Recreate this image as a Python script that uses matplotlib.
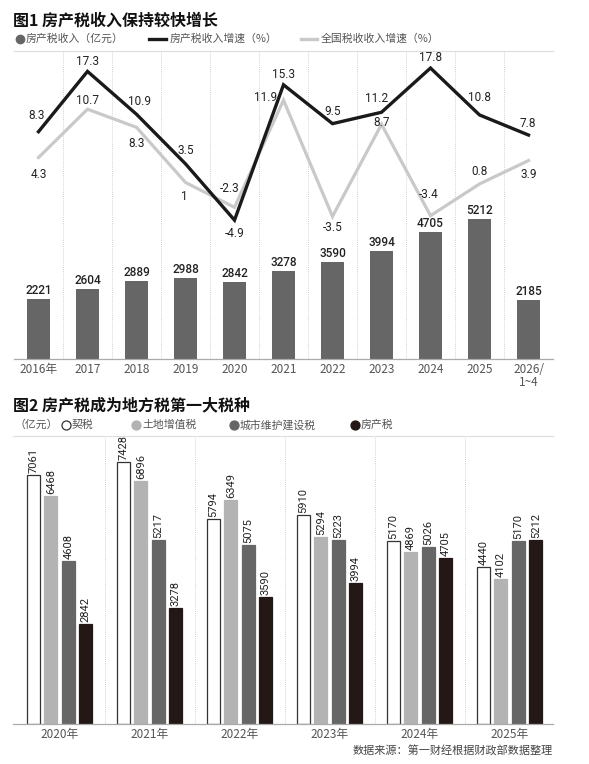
import matplotlib
matplotlib.use('Agg')
import matplotlib.pyplot as plt
from matplotlib.lines import Line2D

plt.rcParams['font.family'] = ['Noto Sans CJK SC', 'DejaVu Sans']

W, H = 589, 764

# ---------------- data: chart 1 ----------------
years1 = ['2016年', '2017', '2018', '2019', '2020', '2021', '2022', '2023',
          '2024', '2025', '2026/\n1~4']
revenue = [2221, 2604, 2889, 2988, 2842, 3278, 3590, 3994, 4705, 5212, 2185]
growth = [8.3, 17.3, 10.9, 3.5, -4.9, 15.3, 9.5, 11.2, 17.8, 10.8, 7.8]
national = [4.3, 10.7, 8.3, 1, -2.3, 11.9, -3.5, 8.7, -3.4, 0.8, 3.9]
legend1 = ['房产税收入（亿元）', '房产税收入增速（%）', '全国税收收入增速（%）']

# ---------------- data: chart 2 ----------------
years2 = ['2020年', '2021年', '2022年', '2023年', '2024年', '2025年']
deed_tax = [7061, 7428, 5794, 5910, 5170, 4440]
land_vat = [6468, 6896, 6349, 5294, 4869, 4102]
urban_tax = [4608, 5217, 5075, 5223, 5026, 5170]
property_tax = [2842, 3278, 3590, 3994, 4705, 5212]
series2_names = ['契税', '土地增值税', '城市维护建设税', '房产税']

# label offsets in screen pixels (dx right, dy down) -- placement only
growth_off = [(-2, -16), (0, -10), (3, -13), (0, -13), (0, 13), (0, -10),
              (0, -12), (-5, -14), (0, -11), (0, -17), (-1, -12)]
national_off = [(0, 17), (0, -9), (0, 16), (-1, 14), (-5, -19), (-18, -3),
                (0, 11), (0, -2), (-2, -21), (0, -12), (0, 14)]

NUMFONT = 'Roboto'
TXT = '#222222'
GRID = '#c4c4c4'


def fx(x):
    return x / W


def fy(y):
    return 1 - y / H


fig = plt.figure(figsize=(W / 100, H / 100), dpi=100)

# ================= Chart 1 =================
top1, base1, left1, right1 = 51, 358.7, 14, 553
ax1 = fig.add_axes([fx(left1), fy(base1), (right1 - left1) / W, (base1 - top1) / H])
x1 = list(range(len(years1)))
ax1.bar(x1, revenue, width=0.45, color='#666666', zorder=2)
ax1.set_xlim(-0.5, len(years1) - 0.5)
ax1.set_ylim(0, (base1 - top1) / 0.02685)
for i, v in enumerate(revenue):
    ax1.annotate(str(v), (i, v), xytext=(0, 2), textcoords='offset pixels',
                 ha='center', va='bottom', fontsize=8.5, family=NUMFONT,
                 fontweight='medium', color=TXT, zorder=5)
for i in range(len(years1) - 1):
    ax1.axvline(i + 0.5, color=GRID, lw=0.6, ls=(0, (1, 1.5)), zorder=0)

# grey national line on its own scale
axg = ax1.twinx()
axg.set_ylim(-(base1 - 190) / 7.55, (190 - top1) / 7.55)
axg.plot(x1, national, color='#c9c9c9', lw=2.3, solid_joinstyle='miter', zorder=3)
for i, v in enumerate(national):
    dx, dy = national_off[i]
    axg.annotate('{:g}'.format(v), (i, v), xytext=(dx, -dy),
                 textcoords='offset pixels', ha='center', va='center',
                 fontsize=8.5, family=NUMFONT, color=TXT)
axg.axis('off')

# black growth line
axb = ax1.twinx()
axb.set_ylim(-(base1 - 187.3) / 6.7, (187.3 - top1) / 6.7)
axb.plot(x1, growth, color='#1a1a1a', lw=2.4, solid_joinstyle='miter', zorder=4)
for i, v in enumerate(growth):
    dx, dy = growth_off[i]
    axb.annotate('{:g}'.format(v), (i, v), xytext=(dx, -dy),
                 textcoords='offset pixels', ha='center', va='center',
                 fontsize=8.5, family=NUMFONT, color=TXT)
axb.axis('off')

ax1.set_xticks(x1)
ax1.set_xticklabels(years1, fontsize=8.5, color='#555555', linespacing=1.0)
ax1.tick_params(axis='x', length=0, pad=3)
ax1.tick_params(axis='y', left=False, right=False, labelleft=False, labelright=False)
for s in ['left', 'right']:
    ax1.spines[s].set_visible(False)
ax1.spines['bottom'].set_color('#aaaaaa')
ax1.spines['bottom'].set_linewidth(0.9)
ax1.spines['top'].set_color('#dddddd')
ax1.spines['top'].set_linewidth(0.8)

# title + legend 1
fig.text(fx(13), fy(21), '图1 房产税收入保持较快增长', fontsize=11.5,
         fontweight='bold', color='#111111', va='center', ha='left')
ly = fy(39)
fig.add_artist(Line2D([fx(20)], [ly], marker='o', ms=6, color='#666666', lw=0))
fig.text(fx(26), ly, legend1[0], fontsize=7.8, color='#555555', va='center')
fig.add_artist(Line2D([fx(149), fx(166)], [ly, ly], color='#1a1a1a', lw=2.4))
fig.text(fx(170), ly, legend1[1], fontsize=7.8, color='#555555', va='center')
fig.add_artist(Line2D([fx(301), fx(317)], [ly, ly], color='#c9c9c9', lw=2.4))
fig.text(fx(321), ly, legend1[2], fontsize=7.8, color='#555555', va='center')

# ================= Chart 2 =================
top2, base2, left2, right2 = 436, 724, 13, 553
ax2 = fig.add_axes([fx(left2), fy(base2), (right2 - left2) / W, (base2 - top2) / H])
ax2.set_xlim(-0.517, 5.483)
ax2.set_ylim(0, (base2 - top2) / 0.0353)
series2 = [deed_tax, land_vat, urban_tax, property_tax]
faces = ['white', '#b3b3b3', '#666666', '#231816']
edges = ['#333333', '#b3b3b3', '#666666', '#231816']
pitch, bw = 0.194, 0.144
x2 = list(range(len(years2)))
for k, vals in enumerate(series2):
    xs = [g + (k - 1.5) * pitch for g in x2]
    ax2.bar(xs, vals, width=bw, color=faces[k], edgecolor=edges[k],
            linewidth=0.9, zorder=2)
    for xv, v in zip(xs, vals):
        ax2.annotate(str(v), (xv, v), xytext=(0, 2), textcoords='offset pixels',
                     rotation=90, ha='center', va='bottom', fontsize=8,
                     family=NUMFONT, color=TXT, annotation_clip=False)
for i in range(len(years2) - 1):
    ax2.axvline(i + 0.5, color=GRID, lw=0.6, ls=(0, (1, 1.5)), zorder=0)
ax2.set_xticks(x2)
ax2.set_xticklabels(years2, fontsize=8.5, color='#555555')
ax2.tick_params(axis='x', length=0, pad=3)
ax2.tick_params(axis='y', left=False, labelleft=False)
for s in ['left', 'right']:
    ax2.spines[s].set_visible(False)
ax2.spines['bottom'].set_color('#aaaaaa')
ax2.spines['bottom'].set_linewidth(0.9)
ax2.spines['top'].set_color('#dddddd')
ax2.spines['top'].set_linewidth(0.8)

fig.text(fx(13), fy(405), '图2 房产税成为地方税第一大税种', fontsize=11.5,
         fontweight='bold', color='#111111', va='center', ha='left')
ly2 = fy(425)
fig.text(fx(14), ly2, '（亿元）', fontsize=7.8, color='#555555', va='center')
leg_x = [66, 136, 234, 355]
for k, name in enumerate(series2_names):
    fig.add_artist(Line2D([fx(leg_x[k])], [ly2], marker='o', ms=6.5,
                          markerfacecolor=faces[k], markeredgecolor=edges[k],
                          markeredgewidth=0.9, lw=0))
    fig.text(fx(leg_x[k] + 6), ly2, name, fontsize=7.8, color='#555555', va='center')

fig.text(fx(553), fy(750), '数据来源：第一财经根据财政部数据整理', fontsize=8,
         color='#444444', ha='right', va='center')

fig.savefig('out.png', dpi=100)
